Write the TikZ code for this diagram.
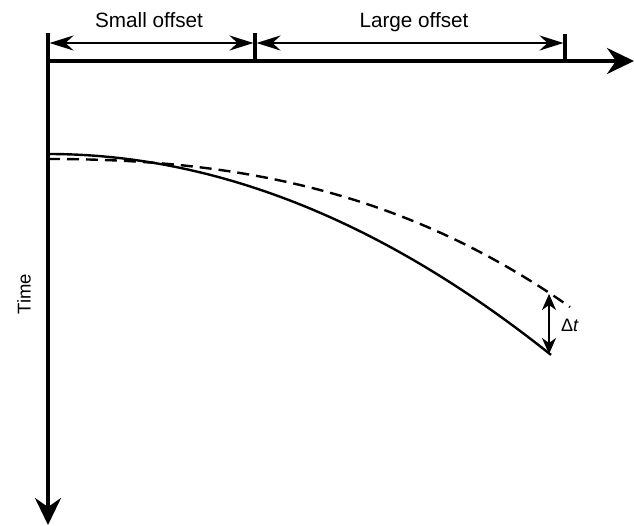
\documentclass[tikz,border=0pt]{standalone}
\usepackage{fontspec}
\setmainfont{Liberation Sans}
\usetikzlibrary{arrows.meta}
\begin{document}
\begin{tikzpicture}[x=1pt,y=-1pt,line join=miter,
	axis/.style={line width=3.5pt},
	dimline/.style={line width=2.6pt,{Stealth[length=24pt,width=15pt,inset=8pt]}-{Stealth[length=24pt,width=15pt,inset=8pt]}},
	curve/.style={line width=2.4pt,smooth,samples=120}]
	\useasboundingbox (0,0) rectangle (634,526);
	% axes
	\coordinate (O) at (48,61);
	\coordinate (top) at (48,33);
	\coordinate (bot) at (48,525);
	\coordinate (end) at (634,61);
	\coordinate (mTop) at (255,33);
	\coordinate (mBot) at (255,61);
	\coordinate (rTop) at (565,34);
	\coordinate (rBot) at (565,61);
	\draw[axis,-{Stealth[length=27pt,width=26pt,inset=9pt]}] (top)--(bot);
	\draw[axis,-{Stealth[length=27pt,width=26pt,inset=9pt]}] (O)--(end);
	\draw[line width=3.2pt] (mTop)--(mBot) (rTop)--(rBot);
	% offsets
	\coordinate (sL) at (49.5,43);
	\coordinate (sR) at (253.5,43);
	\coordinate (lL) at (256.5,43);
	\coordinate (lR) at (563.5,43);
	\draw[dimline] (sL)--(sR);
	\draw[dimline] (lL)--(lR);
	\node[font=\fontsize{20.7}{24}\selectfont,anchor=base] (small) at (149,28) {Small offset};
	\node[font=\fontsize{20.7}{24}\selectfont,anchor=base] (large) at (414,28) {Large offset};
	\node[font=\fontsize{18.5}{21}\selectfont,rotate=90,inner sep=0pt] (time) at (24,294) {Time};
	% arrival curves
	\draw[curve,domain=48:551] plot(\x,{154+7.94*((\x-48)/100)^2});
	\draw[curve,dash pattern=on 12pt off 7pt,domain=48:570] plot(\x,{159+2.845*((\x-48)/100)^2+0.4955*((\x-48)/100)^3});
	% delay
	\coordinate (dtTop) at (549,294);
	\coordinate (dtBot) at (549,354);
	\draw[line width=2.2pt,{Stealth[length=16pt,width=14pt,inset=5pt]}-{Stealth[length=16pt,width=14pt,inset=5pt]}] (dtTop)--(dtBot);
	\node[font=\fontsize{18}{20}\selectfont,anchor=west,inner sep=0pt] (dt) at (561,325) {Δ\textit{t}};
\end{tikzpicture}
\end{document}
